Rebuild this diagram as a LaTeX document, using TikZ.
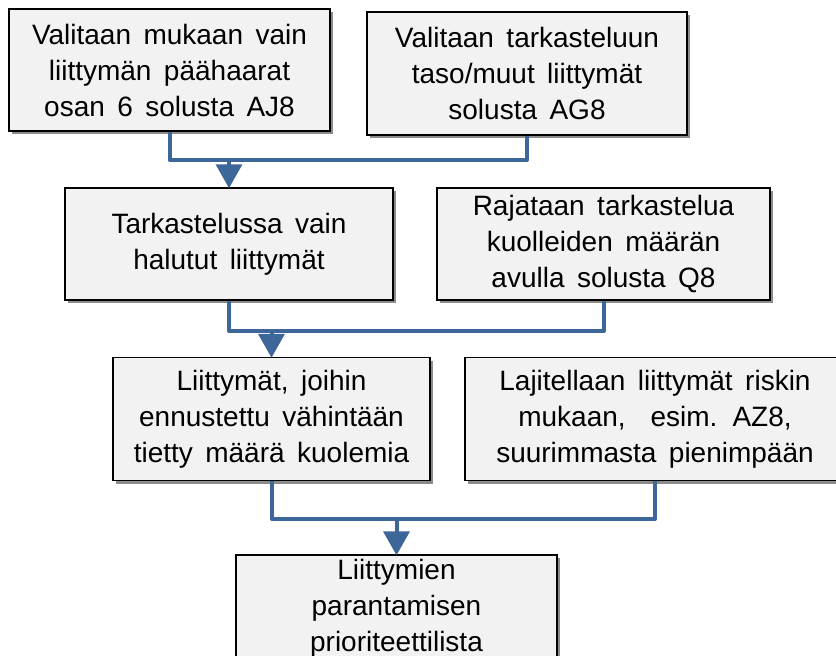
\documentclass[tikz,border=0pt]{standalone}
\usepackage{fontspec}
\setmainfont[WordSpace=1.6]{Liberation Sans}
\usetikzlibrary{arrows.meta,shadows}
\definecolor{boxfill}{HTML}{F2F2F2}
\definecolor{connblue}{RGB}{61,103,152}
\tikzset{
  box/.style={draw=black, line width=1.5pt, fill=boxfill, align=center,
    inner sep=0pt, font=\fontsize{28}{36}\selectfont,
    drop shadow={shadow xshift=3pt, shadow yshift=-3pt, fill=black, opacity=0.45}},
  conn/.style={draw=connblue, line width=4pt, line join=round},
  arr/.style={conn, -{Triangle[width=26pt,length=24pt]}, shorten >=-1pt}
}
\begin{document}
\begin{tikzpicture}[x=1pt,y=-1pt]
\useasboundingbox (0,0) rectangle (836,656);
\clip (0,0) rectangle (836,656);
\node[box, minimum width=321pt, minimum height=122pt] (b1) at (169.5,70)
  {Valitaan mukaan vain\\liittymän päähaarat\\osan 6 solusta AJ8};
\node[box, minimum width=320pt, minimum height=123pt] (b2) at (527,73.5)
  {Valitaan tarkasteluun\\taso/muut liittymät\\solusta AG8};
\node[box, minimum width=328pt, minimum height=112pt] (b3) at (229,244)
  {Tarkastelussa vain\\halutut liittymät};
\node[box, minimum width=333pt, minimum height=112pt] (b4) at (603.5,244)
  {Rajataan tarkastelua\\kuolleiden määrän\\avulla solusta Q8};
\node[box, minimum width=317pt, minimum height=123pt] (b5) at (271.5,419)
  {Liittymät, joihin\\ennustettu vähintään\\tietty määrä kuolemia};
\node[box, minimum width=380pt, minimum height=123pt] (b6) at (655,419)
  {Lajitellaan liittymät riskin\\mukaan,\ \ esim. AZ8,\\suurimmasta pienimpään};
\node[box, minimum width=321pt, minimum height=106pt] (b7) at (396.5,608)
  {Liittymien\\parantamisen\\prioriteettilista};
\coordinate (j1) at (229,160);
\coordinate (j2) at (271.5,331);
\coordinate (j3) at (396.5,519);
\draw[conn] (b1.south) |- (j1) -| (b2.south);
\draw[arr] (j1) -- (b3.north);
\draw[conn] (b3.south) |- (j2) -| (b4.south);
\draw[arr] (j2) -- (b5.north);
\draw[conn] (b5.south) |- (j3) -| (b6.south);
\draw[arr] (j3) -- (b7.north);
\end{tikzpicture}
\end{document}
